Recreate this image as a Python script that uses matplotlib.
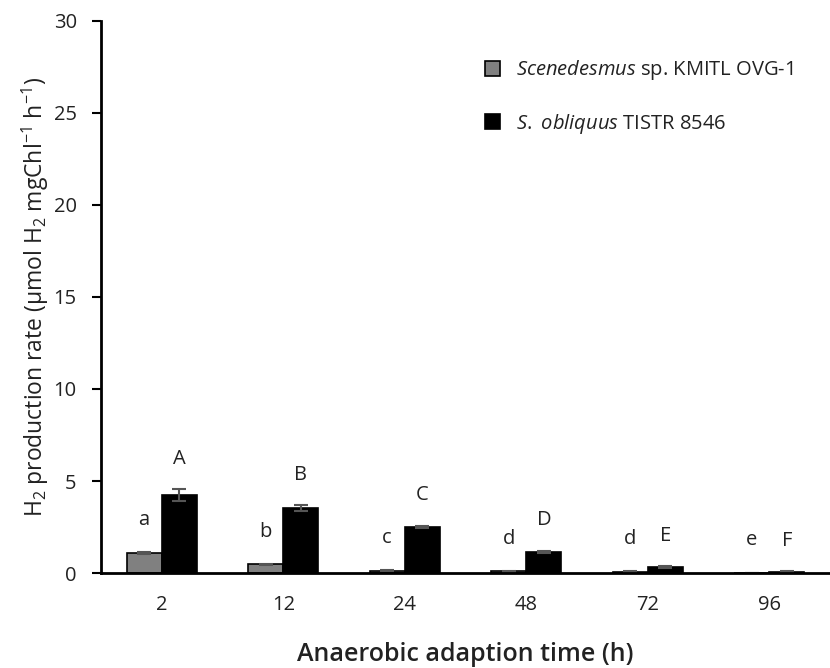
import numpy as np
import matplotlib.pyplot as plt

plt.rcParams['font.family'] = ['Open Sans', 'DejaVu Sans']
plt.rcParams['mathtext.fontset'] = 'custom'
plt.rcParams['mathtext.rm'] = 'Open Sans'
plt.rcParams['mathtext.it'] = 'Open Sans:italic'

times = ['2', '12', '24', '48', '72', '96']
ovg1 = [1.09, 0.47, 0.13, 0.10, 0.07, 0.01]
ovg1_err = [0.03, 0.03, 0.02, 0.02, 0.02, 0.01]
tistr = [4.24, 3.53, 2.52, 1.16, 0.33, 0.08]
tistr_err = [0.33, 0.15, 0.05, 0.05, 0.04, 0.02]
ovg1_letters = ['a', 'b', 'c', 'd', 'd', 'e']
tistr_letters = ['A', 'B', 'C', 'D', 'E', 'F']

txt = '#222222'

fig = plt.figure(figsize=(8.3, 6.68), dpi=100)
ax = fig.add_axes([0.1217, 0.1422, 0.8783, 0.8264])

x = np.arange(len(times))
w = 0.29
err_kw = dict(ecolor='#555555', capsize=5, elinewidth=1.5, capthick=1.5)
ax.bar(x - w / 2, ovg1, w, yerr=ovg1_err, color='#808080', edgecolor='black',
       linewidth=1.2, error_kw=err_kw, label=r'$\it{Scenedesmus}$ sp. KMITL OVG-1')
ax.bar(x + w / 2, tistr, w, yerr=tistr_err, color='black', edgecolor='black',
       linewidth=1.2, error_kw=err_kw, label=r'$\it{S.\ obliquus}$ TISTR 8546')

# significance letters above each bar
for i in range(len(times)):
    ax.text(x[i] - w / 2, ovg1[i] + ovg1_err[i] + 1.75, ovg1_letters[i],
            ha='center', va='center', fontsize=14.5, color=txt)
    ax.text(x[i] + w / 2, tistr[i] + tistr_err[i] + 1.65, tistr_letters[i],
            ha='center', va='center', fontsize=14.5, color=txt)

ax.set_xlim(-0.5, 5.5)
ax.set_ylim(0, 30)
ax.set_yticks([0, 5, 10, 15, 20, 25, 30])
ax.set_xticks(x)
ax.set_xticklabels(times)
ax.tick_params(axis='x', length=0, pad=16, labelsize=14.5, labelcolor=txt)
ax.tick_params(axis='y', direction='out', length=6.5, width=1.5, pad=11, labelsize=14.5, labelcolor=txt)
for s in ['top', 'right']:
    ax.spines[s].set_visible(False)
for s in ['left', 'bottom']:
    ax.spines[s].set_linewidth(2)

ax.set_xlabel('Anaerobic adaption time (h)', fontsize=18, fontweight='semibold', labelpad=19, color=txt)
ax.set_ylabel(r'H$_2$ production rate (µmol H$_2$ mgChl$^{-1}$ h$^{-1}$)', fontsize=16.5, labelpad=2, color=txt)

ax.legend(loc='upper right', bbox_to_anchor=(0.975, 0.965), frameon=False, fontsize=14.5,
          handlelength=0.75, handleheight=0.75, labelspacing=1.45, handletextpad=0.8,
          labelcolor=txt)

fig.savefig('out.png', dpi=100)
